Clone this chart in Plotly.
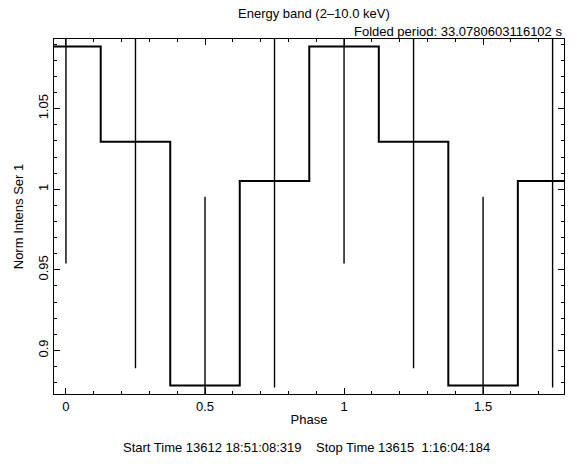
import plotly.graph_objects as go

phase = [0.0, 0.25, 0.5, 0.75, 1.0, 1.25, 1.5, 1.75]
intensity = [1.0885, 1.0295, 0.8782, 1.0051, 1.0885, 1.0295, 0.8782, 1.0051]
error = [0.1345, 0.1405, 0.1172, 0.128, 0.1345, 0.1405, 0.1172, 0.128]
bin_width = 0.25

title_top = "Energy band (2\u201310.0 keV)"
title_period = "Folded period: 33.0780603116102 s"
time_text = "Start Time 13612 18:51:08:319\u00a0\u00a0\u00a0\u00a0Stop Time 13615\u00a0\u00a01:16:04:184"

# step outline from bin edges
step_x = [p - bin_width / 2 for p in phase] + [phase[-1] + bin_width / 2]
step_y = intensity + [intensity[-1]]

err_x, err_y = [], []
for p, v, e in zip(phase, intensity, error):
    err_x += [p, p, None]
    err_y += [v - e, v + e, None]

FONT = "Liberation Sans, Arial, Helvetica, sans-serif"
FS = 13

fig = go.Figure()
fig.add_trace(go.Scatter(x=err_x, y=err_y, mode="lines",
                         line=dict(color="black", width=1.4), hoverinfo="skip"))
fig.add_trace(go.Scatter(x=step_x, y=step_y, mode="lines", line_shape="hv",
                         line=dict(color="black", width=2), hoverinfo="skip"))

axis_common = dict(showgrid=False, zeroline=False, showline=True, linecolor="black",
                   linewidth=1.2, mirror="allticks", ticks="inside", ticklen=6,
                   tickcolor="black", tickwidth=1, tickfont=dict(size=FS, color="black"))

fig.update_layout(
    width=576, height=464,
    margin=dict(l=54, r=12, t=39, b=70),
    paper_bgcolor="white", plot_bgcolor="white",
    showlegend=False,
    font=dict(family=FONT, size=FS, color="black"),
    xaxis=dict(range=[-0.043, 1.791], tickvals=[0, 0.5, 1, 1.5], ticktext=["0", "0.5", "1", "1.5"],
               minor=dict(dtick=0.1, tick0=0, ticks="inside", ticklen=3, tickcolor="black", tickwidth=1),
               title=dict(text="Phase", font=dict(size=FS), standoff=2),
               **axis_common),
    yaxis=dict(range=[0.873, 1.0932], tickvals=[0.9, 0.95, 1, 1.05], ticktext=["0.9", "0.95", "1", "1.05"],
               tickangle=-90,
               minor=dict(dtick=0.01, tick0=0, ticks="inside", ticklen=3, tickcolor="black", tickwidth=1),
               title=dict(text="Norm Intens Ser 1", font=dict(size=FS), standoff=9),
               **axis_common),
    annotations=[
        dict(text=title_top, xref="paper", yref="paper", x=0.509, y=1.0, yshift=26,
             xanchor="center", yanchor="middle", showarrow=False, font=dict(size=FS)),
        dict(text=title_period, xref="paper", yref="paper", x=1.0, y=1.0, yshift=8,
             xanchor="right", yanchor="middle", showarrow=False, font=dict(size=FS)),
        dict(text=time_text, xref="paper", yref="paper", x=0.496, y=0.0, yshift=-53,
             xanchor="center", yanchor="middle", showarrow=False, font=dict(size=FS)),
    ],
)

fig.write_html("out.html")
